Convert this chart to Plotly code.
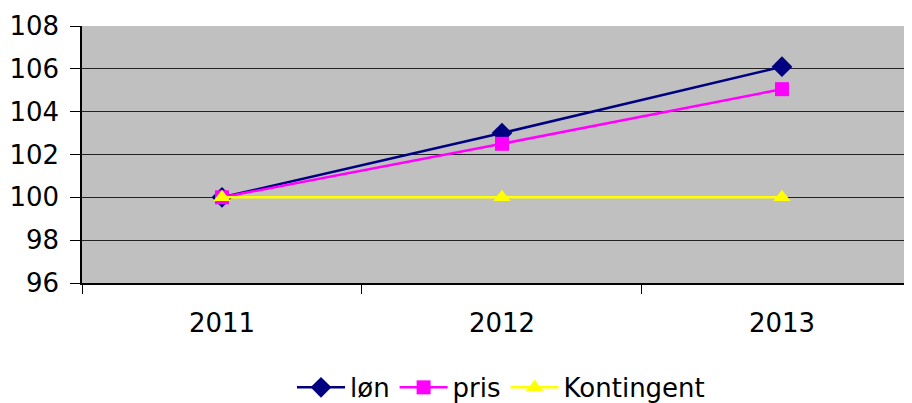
import plotly.graph_objects as go

years = ["2011", "2012", "2013"]
lon = [100, 103.0, 106.1]
pris = [100, 102.5, 105.05]
kontingent = [100, 100, 100]

fig = go.Figure()
fig.add_trace(go.Scatter(x=years, y=lon, name="løn", mode="lines+markers",
                         line=dict(color="#000080", width=2.5),
                         marker=dict(symbol="diamond", size=16, color="#000080")))
fig.add_trace(go.Scatter(x=years, y=pris, name="pris", mode="lines+markers",
                         line=dict(color="#FF00FF", width=2.5),
                         marker=dict(symbol="square", size=14, color="#FF00FF")))
fig.add_trace(go.Scatter(x=years, y=kontingent, name="Kontingent", mode="lines+markers",
                         line=dict(color="#FFFF00", width=2.5),
                         marker=dict(symbol="triangle-up", size=15, color="#FFFF00")))

fig.update_layout(
    width=912, height=403,
    margin=dict(l=74, r=0, t=18, b=128, autoexpand=False),
    paper_bgcolor="white", plot_bgcolor="#C0C0C0",
    font=dict(family="DejaVu Sans", size=26, color="black"),
    showlegend=True,
    legend=dict(orientation="h", x=0.5, xanchor="center", y=-0.315, yanchor="top",
                font=dict(size=26), itemwidth=48, tracegroupgap=0),
    xaxis=dict(type="category", range=[-0.5, 2.493], tickson="boundaries",
               ticks="outside", ticklen=9, tickcolor="black", tickwidth=1,
               showline=True, linecolor="black", linewidth=1.5, showgrid=False,
               zeroline=False, tickfont=dict(size=26), fixedrange=True,
               automargin=False, ticklabelstandoff=16),
    yaxis=dict(range=[96, 108], dtick=2, tick0=96, ticks="outside", ticklen=10,
               tickcolor="black", showline=True, linecolor="black", linewidth=1.5,
               showgrid=True, gridcolor="#222222", gridwidth=1, zeroline=False,
               tickfont=dict(size=26), ticklabelstandoff=6, automargin=False),
)
fig.write_html("out.html")
